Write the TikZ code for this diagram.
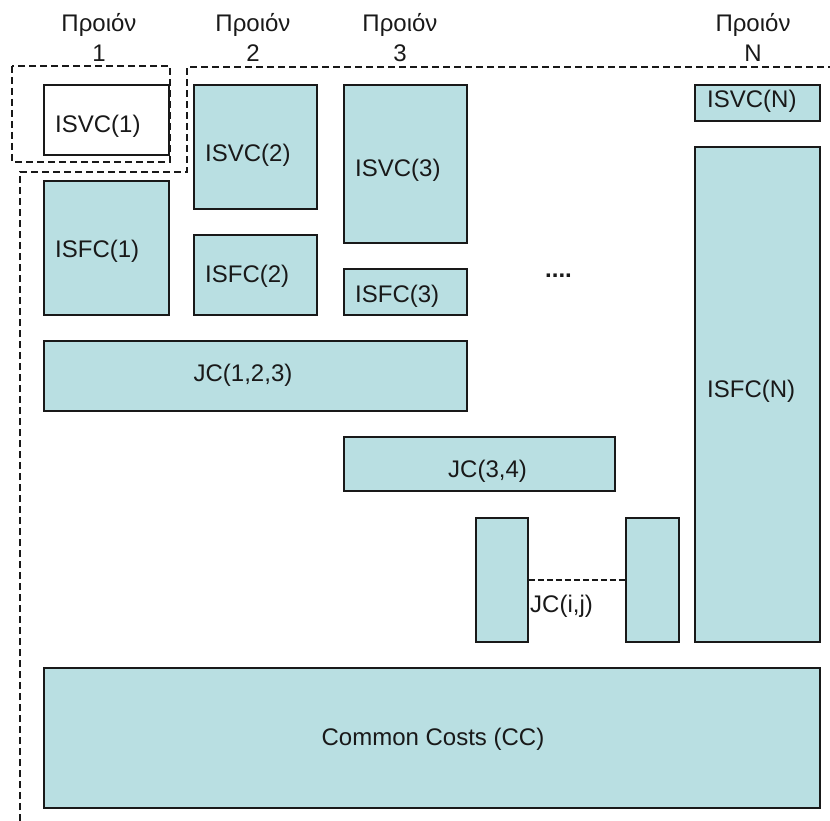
\documentclass[tikz,border=0pt]{standalone}
\usepackage{fontspec}
\setmainfont{Liberation Sans}
\definecolor{boxfill}{RGB}{185,223,226}
\definecolor{edge}{RGB}{25,25,25}
\begin{document}
\begin{tikzpicture}[x=1pt,y=-1pt,
  box/.style={draw=edge, line width=1.8pt, fill=boxfill, inner sep=0pt, anchor=north west},
  lbl/.style={inner sep=0pt, anchor=base west, text=edge, font=\fontsize{24}{28}\selectfont},
  head/.style={inner sep=0pt, anchor=base, text=edge, font=\fontsize{24}{28}\selectfont},
  grp/.style={draw=edge, line width=1.5pt, dash pattern=on 7pt off 4pt},
  link/.style={draw=edge, line width=1.5pt, dash pattern=on 6pt off 3pt}]
\useasboundingbox (0,0) rectangle (830,821);
% product headers
\node[head] (p1) at (99,32) {Προιόν};
\node[head] (n1) at (99,62) {1};
\node[head] (p2) at (253,32) {Προιόν};
\node[head] (n2) at (253,62) {2};
\node[head] (p3) at (400,32) {Προιόν};
\node[head] (n3) at (400,62) {3};
\node[head] (pN) at (753,32) {Προιόν};
\node[head] (nN) at (753,62) {N};
% boxes
\node[box, fill=white, minimum width=125pt, minimum height=70pt] (isvc1) at (43,84) {};
\node[box, minimum width=123pt, minimum height=124pt] (isvc2) at (193,84) {};
\node[box, minimum width=123pt, minimum height=158pt] (isvc3) at (343,84) {};
\node[box, minimum width=125pt, minimum height=134pt] (isfc1) at (43,180) {};
\node[box, minimum width=123pt, minimum height=80pt] (isfc2) at (193,234) {};
\node[box, minimum width=123pt, minimum height=46pt] (isfc3) at (343,268) {};
\node[box, minimum width=125pt, minimum height=36pt] (isvcN) at (694,84) {};
\node[box, minimum width=125pt, minimum height=495pt] (isfcN) at (694,146) {};
\node[box, minimum width=423pt, minimum height=70pt] (jc123) at (43,340) {};
\node[box, minimum width=271pt, minimum height=54pt] (jc34) at (343,436) {};
\node[box, minimum width=52pt, minimum height=124pt] (jl) at (475,517) {};
\node[box, minimum width=53pt, minimum height=124pt] (jr) at (625,517) {};
\node[box, minimum width=776pt, minimum height=140pt] (cc) at (43,667) {};
% dashed groups
\draw[grp] (12,66) rectangle (170,162);
\draw[grp] (20,821) -- (20,172) -- (187,172) -- (187,67) -- (830,67);
% link between JC(i,j) boxes
\draw[link] (jl.east) -- (jr.west);
% labels
\node[lbl] (t-isvc1) at (55,133) {ISVC(1)};
\node[lbl] (t-isvc2) at (205,162) {ISVC(2)};
\node[lbl] (t-isvc3) at (355,177) {ISVC(3)};
\node[lbl] (t-isfc1) at (55,258) {ISFC(1)};
\node[lbl] (t-isfc2) at (205,283) {ISFC(2)};
\node[lbl] (t-isfc3) at (355,302) {ISFC(3)};
\node[lbl] (t-isvcN) at (707,108) {ISVC(N)};
\node[lbl] (t-isfcN) at (707,397) {ISFC(N)};
\node[lbl, font=\fontsize{24}{28}\selectfont\bfseries] (t-dots) at (545,277) {....};
\node[head] (t-jc123) at (243,381) {JC(1,2,3)};
\node[lbl] (t-jc34) at (448,477) {JC(3,4)};
\node[lbl] (t-jcij) at (530,612) {JC(i,j)};
\node[head] (t-cc) at (433,745) {Common Costs (CC)};
\end{tikzpicture}
\end{document}
